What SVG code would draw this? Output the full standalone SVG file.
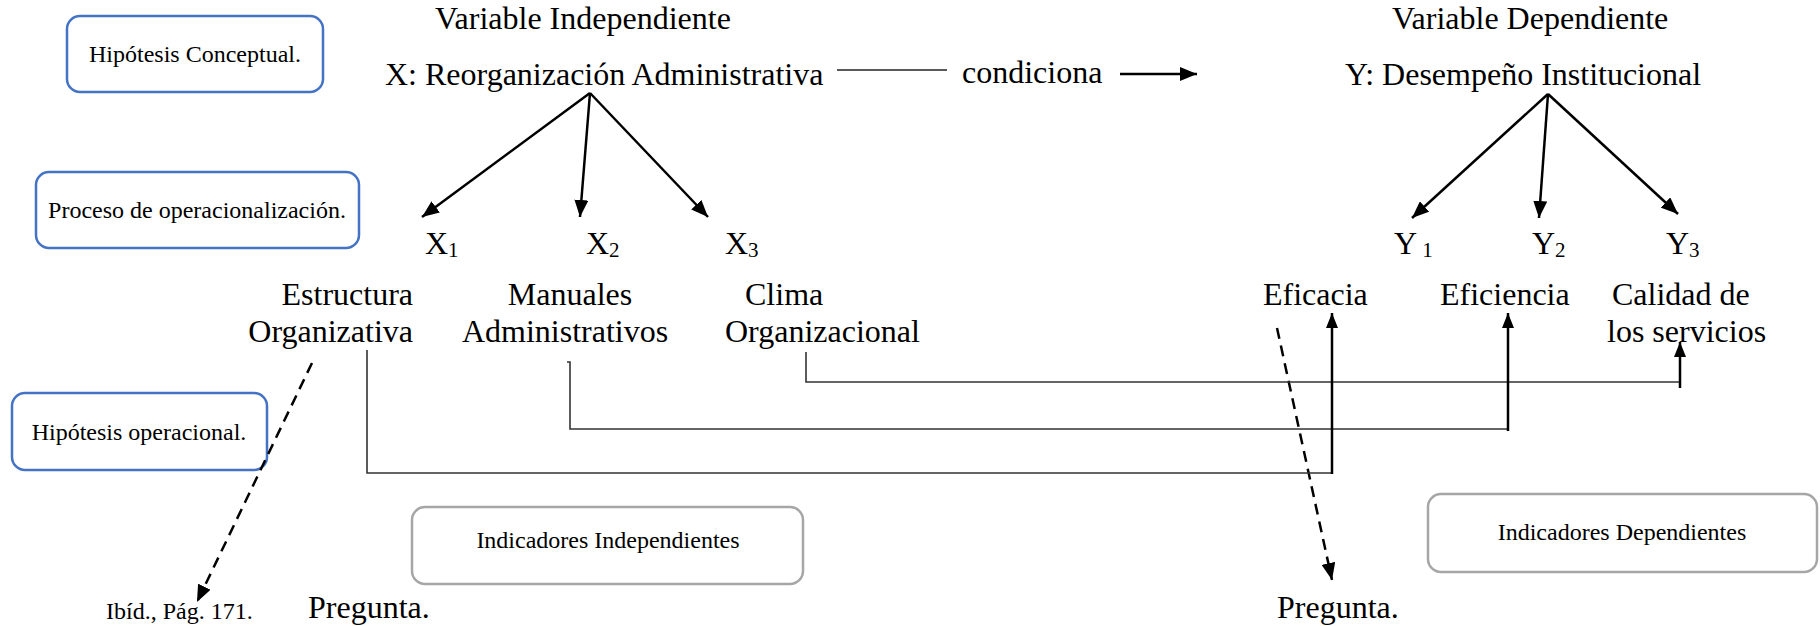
<svg xmlns="http://www.w3.org/2000/svg" width="1820" height="626" viewBox="0 0 1820 626">
<style>
text{font-family:"Liberation Serif","Times New Roman",serif;fill:#000}
.big{font-size:32px}
.box{font-size:24px}
.small{font-size:24px}
.sub{font-size:21px}
.blue{fill:#fff;stroke:#4472C4;stroke-width:2.5}
.gray{fill:#fff;stroke:#A6A6A6;stroke-width:2.5}
.arr{stroke:#000;stroke-width:2.5;fill:none}
.thin{stroke:#333;stroke-width:1.6;fill:none}
.dash{stroke:#000;stroke-width:2.5;fill:none;stroke-dasharray:11 7}
</style>
<defs>
<marker id="ah" markerUnits="userSpaceOnUse" markerWidth="18" markerHeight="14" refX="17" refY="7" orient="auto">
<path d="M0,0 L17,7 L0,14 z" fill="#000"/>
</marker>
<marker id="ahs" markerUnits="userSpaceOnUse" markerWidth="16" markerHeight="12" refX="15" refY="6" orient="auto">
<path d="M0,0 L15,6 L0,12 z" fill="#000"/>
</marker>
</defs>
<rect width="1820" height="626" fill="#fff"/>

<g id="hip-conceptual">
<rect class="blue" x="67" y="16" width="256" height="76" rx="13"/>
<text class="box" x="195" y="62" text-anchor="middle">Hipótesis Conceptual.</text>
</g>
<g id="proceso">
<rect class="blue" x="36" y="172" width="323" height="76" rx="13"/>
<text class="box" x="197" y="218" text-anchor="middle">Proceso de operacionalización.</text>
</g>
<g id="hip-operacional">
<rect class="blue" x="12" y="393" width="255" height="77" rx="13"/>
<text class="box" x="139" y="440" text-anchor="middle">Hipótesis operacional.</text>
</g>
<g id="ind-independientes">
<rect class="gray" x="412" y="507" width="391" height="77" rx="13"/>
<text class="small" x="608" y="548" text-anchor="middle">Indicadores Independientes</text>
</g>
<g id="ind-dependientes">
<rect class="gray" x="1428" y="494" width="389" height="78" rx="13"/>
<text class="small" x="1622" y="540" text-anchor="middle">Indicadores Dependientes</text>
</g>

<g id="var-independiente">
<text class="big" x="435" y="29">Variable Independiente</text>
</g>
<g id="x-var">
<text class="big" x="385" y="85">X: Reorganización Administrativa</text>
</g>
<g id="condiciona">
<text class="big" x="962" y="83">condiciona</text>
</g>
<g id="var-dependiente">
<text class="big" x="1392" y="29">Variable Dependiente</text>
</g>
<g id="y-var">
<text class="big" x="1345" y="85">Y: Desempeño Institucional</text>
</g>

<g id="x1"><text class="big" x="425" y="254">X<tspan class="sub" dy="3">1</tspan></text></g>
<g id="x2"><text class="big" x="586" y="254">X<tspan class="sub" dy="3">2</tspan></text></g>
<g id="x3"><text class="big" x="725" y="254">X<tspan class="sub" dy="3">3</tspan></text></g>
<g id="y1"><text class="big" x="1394" y="254">Y<tspan class="sub" dy="3"> 1</tspan></text></g>
<g id="y2"><text class="big" x="1532" y="254">Y<tspan class="sub" dy="3">2</tspan></text></g>
<g id="y3"><text class="big" x="1666" y="254">Y<tspan class="sub" dy="3">3</tspan></text></g>

<g id="estructura">
<text class="big" x="413" y="305" text-anchor="end">Estructura</text>
<text class="big" x="413" y="342" text-anchor="end">Organizativa</text>
</g>
<g id="manuales">
<text class="big" x="570" y="305" text-anchor="middle">Manuales</text>
<text class="big" x="565" y="342" text-anchor="middle">Administrativos</text>
</g>
<g id="clima">
<text class="big" x="745" y="305">Clima</text>
<text class="big" x="725" y="342">Organizacional</text>
</g>
<g id="eficacia"><text class="big" x="1263" y="305">Eficacia</text></g>
<g id="eficiencia"><text class="big" x="1440" y="305">Eficiencia</text></g>
<g id="calidad">
<text class="big" x="1612" y="305">Calidad de</text>
<text class="big" x="1607" y="342">los servicios</text>
</g>
<g id="ibid"><text class="small" x="106" y="619">Ibíd., Pág. 171.</text></g>
<g id="pregunta1"><text class="big" x="308" y="618">Pregunta.</text></g>
<g id="pregunta2"><text class="big" x="1277" y="618">Pregunta.</text></g>

<g id="connectors">
<line x1="837" y1="70" x2="947" y2="70" stroke="#595959" stroke-width="2"/>
<line class="arr" x1="1120" y1="74" x2="1197" y2="74" marker-end="url(#ah)"/>
<line class="arr" x1="590" y1="93" x2="422" y2="217" marker-end="url(#ah)"/>
<line class="arr" x1="590" y1="93" x2="580" y2="217" marker-end="url(#ah)"/>
<line class="arr" x1="590" y1="93" x2="708" y2="217" marker-end="url(#ah)"/>
<line class="arr" x1="1548" y1="94" x2="1412" y2="218" marker-end="url(#ah)"/>
<line class="arr" x1="1548" y1="94" x2="1539" y2="218" marker-end="url(#ah)"/>
<line class="arr" x1="1548" y1="94" x2="1678" y2="214" marker-end="url(#ah)"/>
<line class="dash" x1="312" y1="363" x2="197" y2="602" marker-end="url(#ah)"/>
<line class="dash" x1="1277" y1="328" x2="1332" y2="580" marker-end="url(#ah)"/>
<path class="thin" d="M367,350 V473 H1332"/>
<path class="thin" d="M567,362 H570 V429 H1508"/>
<path class="thin" d="M806,352 V382 H1680"/>
<line class="arr" x1="1332" y1="474" x2="1332" y2="313" marker-end="url(#ahs)"/>
<line class="arr" x1="1508" y1="431" x2="1508" y2="313" marker-end="url(#ahs)"/>
<line class="arr" x1="1680" y1="388" x2="1680" y2="342" marker-end="url(#ahs)"/>
</g>
</svg>
